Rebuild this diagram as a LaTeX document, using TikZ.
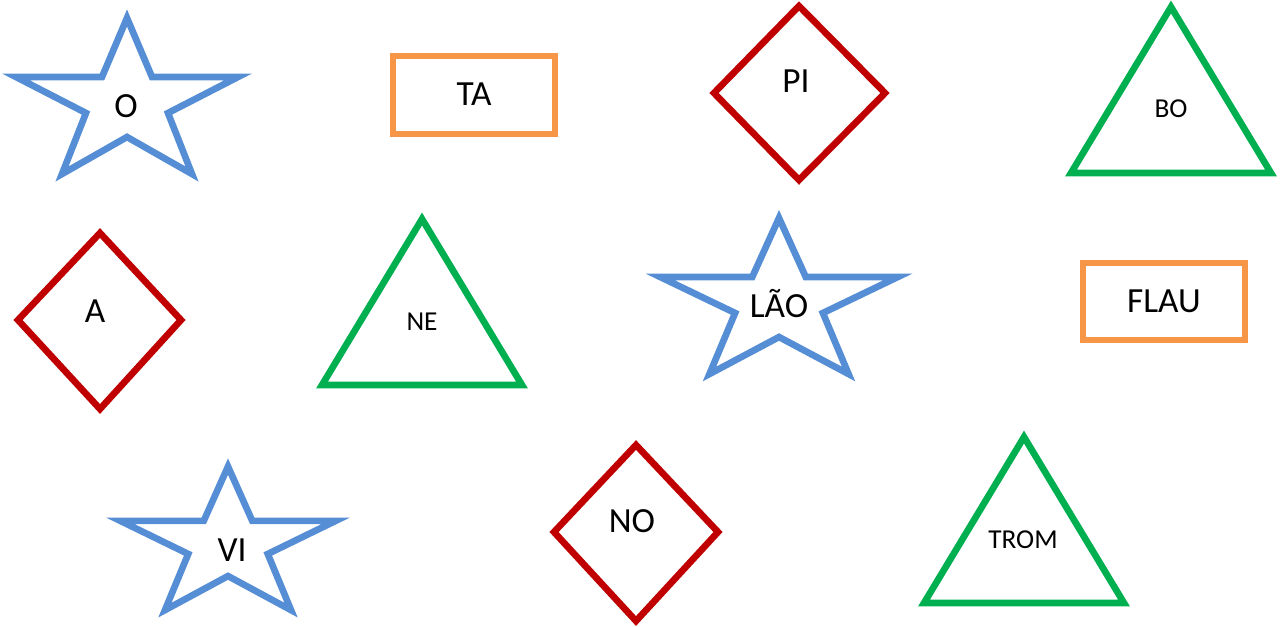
\documentclass[tikz,border=0pt]{standalone}
\usepackage{fontspec}
\setmainfont{Carlito}
\definecolor{my_blue}{HTML}{558ED5}
\definecolor{my_orange}{HTML}{F79646}
\definecolor{my_red}{HTML}{C00000}
\definecolor{my_green}{HTML}{00B050}

\begin{document}
\begin{tikzpicture}[
    x=0.75pt, y=-0.75pt,
    outline/.style={line width=5pt, line join=miter},
    bigtext/.style={font=\fontsize{26.5}{30}\selectfont, anchor=base, inner sep=0pt},
    smalltext/.style={font=\fontsize{20.5}{24}\selectfont, anchor=base, inner sep=0pt},
    fivestar/.pic={
        \draw[outline, my_blue] (0,-82) -- (25,-23) -- (111,-23) -- (41,13)
            -- (65,74) -- (0,37) -- (-65,74) -- (-41,13) -- (-111,-23)
            -- (-25,-23) -- cycle;
    },
    uptriangle/.pic={
        \draw[outline, my_green] (0,-83) -- (100,83) -- (-100,83) -- cycle;
    }
]
\useasboundingbox (0,0) rectangle (1284,626);

% ===== Sterne =====
\pic at (127,100) {fivestar};
\pic[xscale=1.07] at (779,300) {fivestar};
\pic[xscale=0.97, yscale=0.92] at (228,542) {fivestar};
\node[bigtext] (o) at (126,117) {O};
\node[bigtext] (lao) at (779,317) {LÃO};
\node[bigtext] (vi) at (232,561) {VI};

% ===== Rechtecke =====
\draw[outline, my_orange] (393,56) rectangle (555,134);
\draw[outline, my_orange] (1083,263) rectangle (1245,340);
\node[bigtext] (ta) at (474,105) {TA};
\node[bigtext] (flau) at (1164,312) {FLAU};

% ===== Rauten =====
\draw[outline, my_red] (799,6) -- (885,93) -- (799,180) -- (714,93) -- cycle;
\draw[outline, my_red] (100,233) -- (181,320) -- (100,409) -- (18,320) -- cycle;
\draw[outline, my_red] (636,445) -- (718,532) -- (636,621) -- (554,532) -- cycle;
\node[bigtext] (pi) at (796,92) {PI};
\node[bigtext] (a) at (95,322) {A};
\node[bigtext] (no) at (632,532) {NO};

% ===== Dreiecke =====
\pic at (1171,90) {uptriangle};
\pic at (422,302) {uptriangle};
\pic at (1024,520) {uptriangle};
\node[smalltext] (bo) at (1171,117) {BO};
\node[smalltext] (ne) at (422,330) {NE};
\node[smalltext] (trom) at (1023,548) {TROM};

\end{tikzpicture}
\end{document}
